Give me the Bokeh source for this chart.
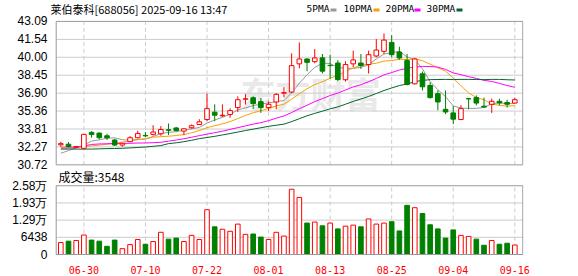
from bokeh.plotting import figure
from bokeh.models import Range1d, FixedTicker, Label, ColumnDataSource
from bokeh.embed import file_html
from bokeh.resources import INLINE
from bokeh.core.properties import value

# ---------------- data ----------------
dates = ["06-25", "06-26", "06-27", "06-30", "07-01", "07-02", "07-03", "07-04", "07-07", "07-08",
         "07-09", "07-10", "07-11", "07-14", "07-15", "07-16", "07-17", "07-18", "07-21", "07-22",
         "07-23", "07-24", "07-25", "07-28", "07-29", "07-30", "07-31", "08-01", "08-04", "08-05",
         "08-06", "08-07", "08-08", "08-11", "08-12", "08-13", "08-14", "08-15", "08-18", "08-19",
         "08-20", "08-21", "08-22", "08-25", "08-26", "08-27", "08-28", "08-29", "09-01", "09-02",
         "09-03", "09-04", "09-05", "09-08", "09-09", "09-10", "09-11", "09-12", "09-15", "09-16"]
tick_dates = ["06-30", "07-10", "07-22", "08-01", "08-13", "08-25", "09-04", "09-16"]

open_ = [32.45, 32.50, 32.25, 32.15, 33.52, 33.46, 33.23, 32.86, 32.43, 32.72,
         33.06, 33.26, 33.35, 33.40, 33.75, 33.90, 33.63, 33.92, 34.20, 34.63,
         35.26, 34.95, 35.06, 35.66, 36.38, 36.51, 36.17, 35.66, 36.14, 36.90,
         37.00, 39.43, 39.85, 39.62, 39.95, 39.30, 39.50, 38.06, 39.43, 39.50,
         39.37, 40.11, 40.51, 41.28, 40.45, 39.71, 37.71, 38.57, 37.57, 36.86,
         35.51, 35.20, 34.63, 36.43, 36.52, 35.78, 35.94, 36.20, 36.10, 36.05]
high = [32.71, 32.69, 32.35, 33.38, 33.63, 33.50, 33.40, 32.97, 32.62, 33.20,
        33.66, 33.55, 34.14, 34.06, 34.29, 34.00, 33.85, 34.20, 34.66, 36.86,
        35.94, 35.94, 35.60, 36.63, 36.82, 36.63, 36.48, 36.20, 36.91, 37.42,
        40.34, 41.28, 39.90, 40.71, 40.28, 40.23, 39.75, 39.65, 40.57, 40.28,
        40.57, 41.57, 42.05, 41.91, 40.91, 40.28, 39.94, 38.77, 37.85, 37.14,
        37.14, 35.77, 35.86, 36.45, 36.71, 36.52, 36.43, 36.43, 36.34, 36.52]
low = [32.29, 32.20, 32.20, 32.10, 33.06, 32.92, 32.86, 32.35, 32.29, 32.68,
       33.00, 33.10, 33.25, 33.23, 33.29, 33.60, 33.29, 33.85, 34.15, 34.50,
       34.49, 34.85, 34.77, 35.28, 35.92, 35.54, 35.20, 35.37, 35.51, 36.54,
       36.90, 39.05, 38.79, 39.48, 38.60, 38.15, 37.94, 37.90, 39.14, 39.00,
       38.60, 40.00, 40.28, 40.00, 39.77, 37.57, 37.65, 37.14, 36.43, 35.43,
       35.09, 34.23, 34.57, 35.51, 35.86, 35.68, 35.20, 35.86, 35.66, 36.00]
close = [32.55, 32.30, 32.30, 33.35, 33.33, 33.06, 33.06, 32.43, 32.58, 33.06,
         33.43, 33.22, 33.55, 33.77, 33.70, 33.68, 33.83, 34.10, 34.43, 35.57,
         35.00, 35.00, 35.40, 36.34, 36.42, 36.00, 35.66, 35.94, 36.80, 36.95,
         39.28, 39.85, 39.56, 39.94, 38.80, 39.28, 38.08, 39.37, 39.77, 39.28,
         40.22, 40.62, 41.48, 40.22, 39.94, 37.65, 39.85, 37.45, 36.52, 36.14,
         35.28, 34.66, 35.57, 36.41, 36.05, 35.70, 36.20, 36.06, 35.95, 36.34]

ma5 = [31.72, 31.95, 32.18, 32.43, 32.77, 32.87, 33.02, 33.05, 32.89, 32.84,
       32.91, 32.94, 33.17, 33.41, 33.53, 33.58, 33.71, 33.82, 33.95, 34.32,
       34.59, 34.82, 35.08, 35.46, 35.63, 35.83, 35.96, 36.07, 36.16, 36.27,
       36.93, 37.76, 38.49, 39.12, 39.49, 39.46, 39.11, 39.06, 39.03, 39.13,
       39.35, 39.85, 40.28, 40.39, 40.52, 40.02, 39.80, 39.00, 37.90, 37.20,
       36.60, 35.80, 35.62, 35.59, 35.59, 35.67, 35.98, 36.07, 35.99, 36.05]
ma10 = [32.28, 32.28, 32.27, 32.30, 32.36, 32.42, 32.50, 32.58, 32.68, 32.80,
        32.89, 32.98, 33.11, 33.15, 33.19, 33.25, 33.33, 33.49, 33.68, 33.93,
        34.09, 34.26, 34.45, 34.71, 34.98, 35.21, 35.39, 35.58, 35.81, 35.95,
        36.38, 36.86, 37.28, 37.64, 37.88, 38.19, 38.44, 38.78, 39.07, 39.31,
        39.40, 39.48, 39.67, 39.71, 39.83, 39.80, 39.86, 39.70, 39.40, 39.10,
        38.80, 38.20, 37.55, 36.92, 36.53, 36.33, 35.97, 35.85, 35.79, 35.82]
ma20 = [32.17, 32.18, 32.20, 32.35, 32.48, 32.52, 32.54, 32.56, 32.57, 32.58,
        32.60, 32.61, 32.63, 32.67, 32.76, 32.86, 32.97, 33.10, 33.24, 33.37,
        33.49, 33.62, 33.78, 33.93, 34.08, 34.23, 34.36, 34.53, 34.75, 34.94,
        35.23, 35.56, 35.86, 36.17, 36.43, 36.70, 36.91, 37.18, 37.44, 37.63,
        37.89, 38.17, 38.48, 38.68, 38.90, 39.05, 39.15, 39.21, 39.20, 39.15,
        38.95, 38.65, 38.50, 38.32, 38.18, 38.01, 37.91, 37.75, 37.56, 37.41]
ma30 = [32.08, 32.08, 32.08, 32.08, 32.08, 32.10, 32.12, 32.13, 32.15, 32.18,
        32.22, 32.26, 32.32, 32.38, 32.55, 32.62, 32.72, 32.84, 32.98, 33.08,
        33.18, 33.30, 33.42, 33.55, 33.68, 33.80, 33.92, 34.04, 34.14, 34.23,
        34.45, 34.70, 34.95, 35.16, 35.35, 35.55, 35.72, 35.95, 36.19, 36.40,
        36.62, 36.87, 37.13, 37.35, 37.56, 37.69, 37.90, 38.00, 38.07, 38.08,
        38.09, 38.08, 38.09, 38.09, 38.08, 38.07, 38.09, 38.09, 38.06, 38.04]

volume = [4480, 5000, 5250, 7300, 5400, 5000, 3070, 5400, 2180, 3700,
          5630, 3840, 4860, 8320, 5760, 6140, 4860, 7170, 5630, 16770,
          10370, 9470, 8700, 11390, 7550, 7680, 6530, 5630, 8320, 6910,
          24450, 21380, 11780, 12160, 10750, 11780, 9600, 10620, 11010, 10370,
          13310, 11390, 11780, 12290, 8830, 18430, 17540, 15360, 11140, 9600,
          6140, 9220, 7170, 6780, 5760, 3460, 5250, 3840, 4220, 3548]
vol_up = [1, 0, 1, 1, 0, 0, 0, 0, 1, 1,
          1, 0, 1, 1, 0, 0, 1, 1, 1, 1,
          0, 1, 1, 1, 1, 0, 0, 1, 1, 1,
          1, 1, 0, 1, 0, 1, 0, 1, 1, 0,
          1, 1, 1, 0, 0, 0, 1, 0, 0, 0,
          0, 0, 1, 1, 0, 0, 1, 0, 0, 1]

price_ticks = [30.72, 32.27, 33.81, 35.36, 36.90, 38.45, 40.00, 41.54, 43.09]
vol_ticks = [0, 6438, 12876, 19314, 25752]
vol_tick_labels = ["0", "6438", "1.29万", "1.93万", "2.58万"]

title_text = "莱伯泰科[688056] 2025-09-16 13:47"
legend_names = ["5PMA", "10PMA", "20PMA", "30PMA"]
vol_title = "成交量:3548"

# ---------------- layout geometry (pixels) ----------------
W, H = 578, 276
FRAME_L, FRAME_R, FRAME_T, FRAME_B = 50, 523, 0, 256
PRICE_TOP, PRICE_BOT = 21, 165        # price panel box
VOL_TOP, VOL_BOT = 186, 255           # volume panel box
BOX_L, BOX_R = 55.7, 522.3
X0_PX, STEP = 60.3, 7.695             # first candle centre, candle spacing

RED = "#ff0000"
GREEN = "#008000"
MA_COLORS = ["#999999", "#f5a200", "#ff00ff", "#00662e"]
GRID = "#cccccc"
FRAME = "#999999"


def px_x(px):
    return (px - X0_PX) / STEP


k_price = (PRICE_BOT - PRICE_TOP) / (price_ticks[-1] - price_ticks[0])
price_lo = price_ticks[0] - (FRAME_B - PRICE_BOT) / k_price
price_hi = price_ticks[-1] + (PRICE_TOP - FRAME_T) / k_price
k_vol = (VOL_BOT - VOL_TOP) / vol_ticks[-1]
vol_lo = -(FRAME_B - VOL_BOT) / k_vol
vol_hi = (VOL_BOT - FRAME_T) / k_vol


def py_price(py):
    return price_hi - (py - FRAME_T) / k_price


def py_vol(py):
    return (VOL_BOT - py) / k_vol


def vol_in_price_space(vv):
    return price_lo + (vv - vol_lo) / (vol_hi - vol_lo) * (price_hi - price_lo)


n = len(close)
idx = list(range(n))
date_ticks = [dates.index(d) for d in tick_dates]
box_l, box_r = px_x(BOX_L), px_x(BOX_R)

up = [c >= o for o, c in zip(open_, close)]
csrc = ColumnDataSource(dict(
    x=idx, high=high, low=low,
    top=[max(o, c) for o, c in zip(open_, close)],
    bottom=[min(o, c) for o, c in zip(open_, close)],
    color=[RED if u else GREEN for u in up],
    fill=["white" if u else GREEN for u in up],
))
vsrc = ColumnDataSource(dict(
    x=idx, top=volume,
    color=[RED if u else GREEN for u in vol_up],
    fill=["white" if u else GREEN for u in vol_up],
))

p = figure(width=W, height=H,
           x_range=Range1d(px_x(FRAME_L), px_x(FRAME_R)),
           y_range=Range1d(price_lo, price_hi),
           output_backend="svg", toolbar_location=None,
           min_border_left=FRAME_L, min_border_right=W - FRAME_R,
           min_border_top=FRAME_T, min_border_bottom=H - FRAME_B)
p.extra_y_ranges = {"vol": Range1d(vol_lo, vol_hi)}
p.background_fill_color = "white"
p.border_fill_color = "white"
p.outline_line_color = None
p.grid.visible = False

# one left axis carrying both the price ticks and the volume ticks
vol_pos = [vol_in_price_space(t) for t in vol_ticks]
overrides = {t: "%.2f" % t for t in price_ticks}
overrides.update({pos: lab for pos, lab in zip(vol_pos, vol_tick_labels)})
p.yaxis.ticker = FixedTicker(ticks=price_ticks + vol_pos)
p.yaxis.major_label_overrides = overrides
p.yaxis.axis_line_color = None
p.yaxis.major_tick_line_color = None
p.yaxis.minor_tick_line_color = None
p.yaxis.major_label_standoff = -3
p.yaxis.major_label_text_font = "Liberation Sans"
p.yaxis.major_label_text_font_size = "12px"
p.yaxis.major_label_text_color = "#000000"

p.xaxis.ticker = FixedTicker(ticks=date_ticks)
p.xaxis.major_label_overrides = {t: d for t, d in zip(date_ticks, tick_dates)}
p.xaxis.axis_line_color = None
p.xaxis.major_tick_line_color = None
p.xaxis.minor_tick_line_color = None
p.xaxis.major_label_standoff = 4
p.xaxis.major_label_text_font = "DejaVu Sans Mono"
p.xaxis.major_label_text_font_size = "10px"
p.xaxis.major_label_text_color = RED

# watermark
p.add_layout(Label(x=px_x(240), y=py_price(92), text="东方财富", text_font="Noto Sans CJK SC",
                   text_font_size="35px", text_font_style="bold", text_color="#e9e9e9",
                   text_baseline="middle", level="underlay"))

# grid lines inside the two panel boxes
pg = price_ticks[1:-1]
p.segment(x0=[box_l] * len(pg), y0=pg, x1=[box_r] * len(pg), y1=pg, line_color=GRID, line_width=1)
vg = vol_ticks[1:-1]
p.segment(x0=[box_l] * len(vg), y0=vg, x1=[box_r] * len(vg), y1=vg, line_color=GRID, line_width=1,
          y_range_name="vol")
p.segment(x0=date_ticks, y0=[price_ticks[0]] * len(date_ticks), x1=date_ticks,
          y1=[price_ticks[-1]] * len(date_ticks), line_color=GRID, line_dash="4 3", line_width=1)
p.segment(x0=date_ticks, y0=[vol_ticks[0]] * len(date_ticks), x1=date_ticks,
          y1=[vol_ticks[-1]] * len(date_ticks), line_color=GRID, line_dash="4 3", line_width=1,
          y_range_name="vol")

# moving averages
for ma, col in zip([ma5, ma10, ma20, ma30], MA_COLORS):
    p.line(idx, ma, line_color=col, line_width=1)

# candles
p.segment(x0="x", y0="low", x1="x", y1="high", line_color="color", line_width=1, source=csrc)
p.vbar(x="x", width=0.6, top="top", bottom="bottom", fill_color="fill", line_color="color",
       line_width=1, source=csrc)

# volume bars
p.vbar(x="x", width=0.6, top="top", bottom=0, fill_color="fill", line_color="color",
       line_width=1, source=vsrc, y_range_name="vol")

# panel boxes
p.quad(left=[box_l], right=[box_r], bottom=[price_ticks[0]], top=[price_ticks[-1]],
       fill_color=None, line_color=FRAME, line_width=1)
p.quad(left=[box_l], right=[box_r], bottom=[vol_ticks[0]], top=[vol_ticks[-1]],
       fill_color=None, line_color=FRAME, line_width=1, y_range_name="vol")

# header row
p.text(x=[px_x(50)], y=[py_price(8.5)], text=[title_text], text_font=value("Noto Sans CJK SC"),
       text_font_size="11px", text_color="#000000", text_baseline="middle")
leg_px = [306, 343, 385, 426]
p.text(x=[px_x(v) for v in leg_px], y=[py_price(8.5)] * 4, text=legend_names,
       text_font=value("DejaVu Sans Mono"), text_font_size="9.5px", text_color="#000000",
       text_baseline="middle")
sq_px = [330, 373, 414, 456]
p.quad(left=[px_x(s) for s in sq_px], right=[px_x(s + 6) for s in sq_px],
       top=[py_price(8)] * 4, bottom=[py_price(11)] * 4, fill_color=MA_COLORS, line_color=None)

# volume caption
p.text(x=[px_x(58)], y=[py_vol(176.7)], text=[vol_title], text_font=value("Noto Sans CJK SC"),
       text_font_size="12px", text_color="#000000", text_baseline="middle", y_range_name="vol")

open("out.html", "w").write(file_html(p, INLINE))
